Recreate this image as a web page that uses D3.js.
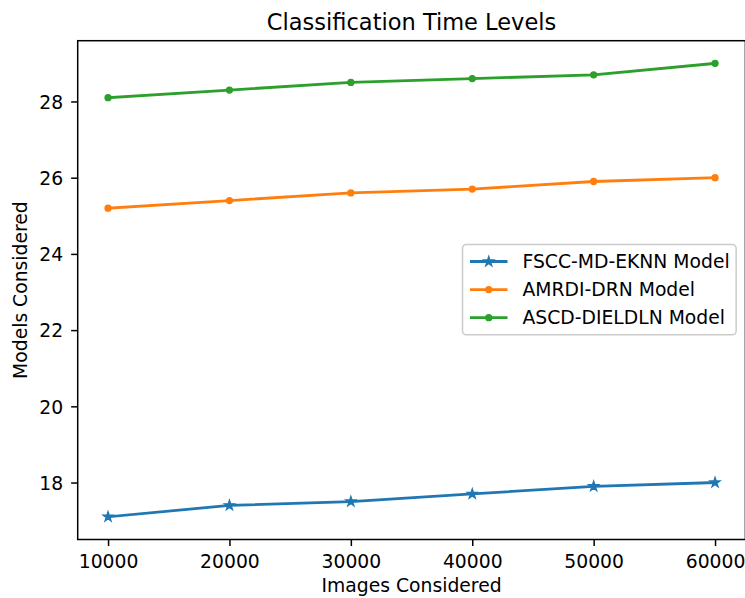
<!DOCTYPE html>
<html>
<head>
<meta charset="utf-8">
<script src="https://cdn.jsdelivr.net/npm/d3@7"></script>
<style>
  html, body { margin: 0; padding: 0; background: #fff; }
  svg { display: block; }
  text { font-family: "DejaVu Sans", sans-serif; fill: #000; }
</style>
</head>
<body>
<script>
// ---- data ----
const xValues = [10000, 20000, 30000, 40000, 50000, 60000];
const seriesNames = ["FSCC-MD-EKNN Model", "AMRDI-DRN Model", "ASCD-DIELDLN Model"];
const fsccValues = [17.1, 17.4, 17.5, 17.7, 17.9, 18.0];
const amrdiValues = [25.2, 25.4, 25.6, 25.7, 25.9, 26.0];
const ascdValues = [28.1, 28.3, 28.5, 28.6, 28.7, 29.0];
const xTicks = [10000, 20000, 30000, 40000, 50000, 60000];
const yTicks = [18, 20, 22, 24, 26, 28];
const titleText = "Classification Time Levels";
const xLabelText = "Images Considered";
const yLabelText = "Models Considered";

const seriesColors = ["#1f77b4", "#ff7f0e", "#2ca02c"];
const seriesMarkers = ["star", "dot", "dot"];
const seriesValues = [fsccValues, amrdiValues, ascdValues];

// ---- layout ----
const W = 745, H = 598;
const pLeft = 77.7, pRight = 745.4, pTop = 40.7, pBottom = 539.5;
const fs = 18.75;

const svg = d3.select("body").append("svg").attr("width", W).attr("height", H);

// scales with matplotlib-like 5% margins
const xMin = d3.min(xValues), xMax = d3.max(xValues);
const xPad = (xMax - xMin) * 0.05;
const x = d3.scaleLinear().domain([xMin - xPad, xMax + xPad]).range([pLeft, pRight]);
const allY = seriesValues.flat();
const yMin = d3.min(allY), yMax = d3.max(allY);
const yPad = (yMax - yMin) * 0.05;
const y = d3.scaleLinear().domain([yMin - yPad, yMax + yPad]).range([pBottom, pTop]);

// axes
const tickLen = 6.56, tickPad = 6.56;
const xAxis = d3.axisBottom(x).tickValues(xTicks).tickFormat(d3.format("d")).tickSizeOuter(0).tickSize(tickLen).tickPadding(tickPad);
const yAxis = d3.axisLeft(y).tickValues(yTicks).tickFormat(d3.format("d")).tickSizeOuter(0).tickSize(tickLen).tickPadding(tickPad);

const gx = svg.append("g").attr("transform", `translate(0,${pBottom})`).call(xAxis);
gx.select(".domain").remove();
gx.selectAll(".tick line").attr("stroke", "#000").attr("stroke-width", 1.5);
gx.selectAll(".tick text").attr("font-size", fs).attr("font-family", "DejaVu Sans")
  .attr("fill", "#1a1a1a").attr("y", 28.5).attr("dy", null);

const gy = svg.append("g").attr("transform", `translate(${pLeft},0)`).call(yAxis);
gy.select(".domain").remove();
gy.selectAll(".tick line").attr("stroke", "#000").attr("stroke-width", 1.5);
gy.selectAll(".tick text").attr("font-size", fs).attr("font-family", "DejaVu Sans")
  .attr("fill", "#1a1a1a").attr("x", -14.5).attr("dy", "0.36em");

// lines
const line = d3.line().x((d, i) => x(xValues[i])).y(d => y(d));
const starSym = d3.symbol(d3.symbolStar, 30);
function drawMarker(g, type, color, cx, cy) {
  if (type === "star") {
    g.append("path").attr("d", starSym()).attr("transform", `translate(${cx},${cy})`)
      .attr("fill", color).attr("stroke", color).attr("stroke-width", 1.3).attr("stroke-linejoin", "miter");
  } else {
    g.append("circle").attr("cx", cx).attr("cy", cy).attr("r", 2.8)
      .attr("fill", color).attr("stroke", color).attr("stroke-width", 1.7);
  }
}

const plot = svg.append("g");
seriesValues.forEach((vals, si) => {
  plot.append("path").datum(vals).attr("d", line).attr("fill", "none")
    .attr("stroke", seriesColors[si]).attr("stroke-width", 2.8)
    .attr("stroke-linejoin", "round").attr("stroke-linecap", "square");
  const mg = plot.append("g");
  vals.forEach((v, i) => drawMarker(mg, seriesMarkers[si], seriesColors[si], x(xValues[i]), y(v)));
});

// frame (spines)
svg.append("rect").attr("x", pLeft).attr("y", pTop).attr("width", pRight - pLeft).attr("height", pBottom - pTop)
  .attr("fill", "none").attr("stroke", "#000").attr("stroke-width", 1.5);

// title & labels
svg.append("text").attr("x", (pLeft + pRight) / 2).attr("y", 29.5).attr("text-anchor", "middle")
  .attr("font-size", 22.5).attr("fill", "#1a1a1a").text(titleText);
svg.append("text").attr("x", (pLeft + pRight) / 2).attr("y", 592).attr("text-anchor", "middle")
  .attr("font-size", fs).attr("fill", "#1a1a1a").text(xLabelText);
svg.append("text").attr("transform", `translate(27,${(pTop + pBottom) / 2}) rotate(-90)`)
  .attr("text-anchor", "middle").attr("font-size", fs).attr("fill", "#1a1a1a").text(yLabelText);

// legend
const lgLeft = 462.5, lgTop = 244.5, rowH = 28.1, firstRow = 261.5;
const lg = svg.append("g");
const frame = lg.append("rect");
let maxW = 0;
seriesNames.forEach((name, i) => {
  const cy = firstRow + i * rowH;
  lg.append("line").attr("x1", lgLeft + 7.5).attr("x2", lgLeft + 45).attr("y1", cy).attr("y2", cy)
    .attr("stroke", seriesColors[i]).attr("stroke-width", 2.8);
  drawMarker(lg, seriesMarkers[i], seriesColors[i], lgLeft + 26.25, cy);
  const t = lg.append("text").attr("x", lgLeft + 60).attr("y", cy).attr("dy", "0.36em")
    .attr("font-size", fs).attr("fill", "#1a1a1a").text(name);
  maxW = Math.max(maxW, t.node().getComputedTextLength());
});
frame.attr("x", lgLeft).attr("y", lgTop).attr("width", 60 + maxW + 6.5)
  .attr("height", 2 * (firstRow - lgTop) + 2 * rowH).attr("rx", 3.75)
  .attr("fill", "#fff").attr("fill-opacity", 0.8).attr("stroke", "#cccccc").attr("stroke-width", 1.5);
</script>
</body>
</html>
